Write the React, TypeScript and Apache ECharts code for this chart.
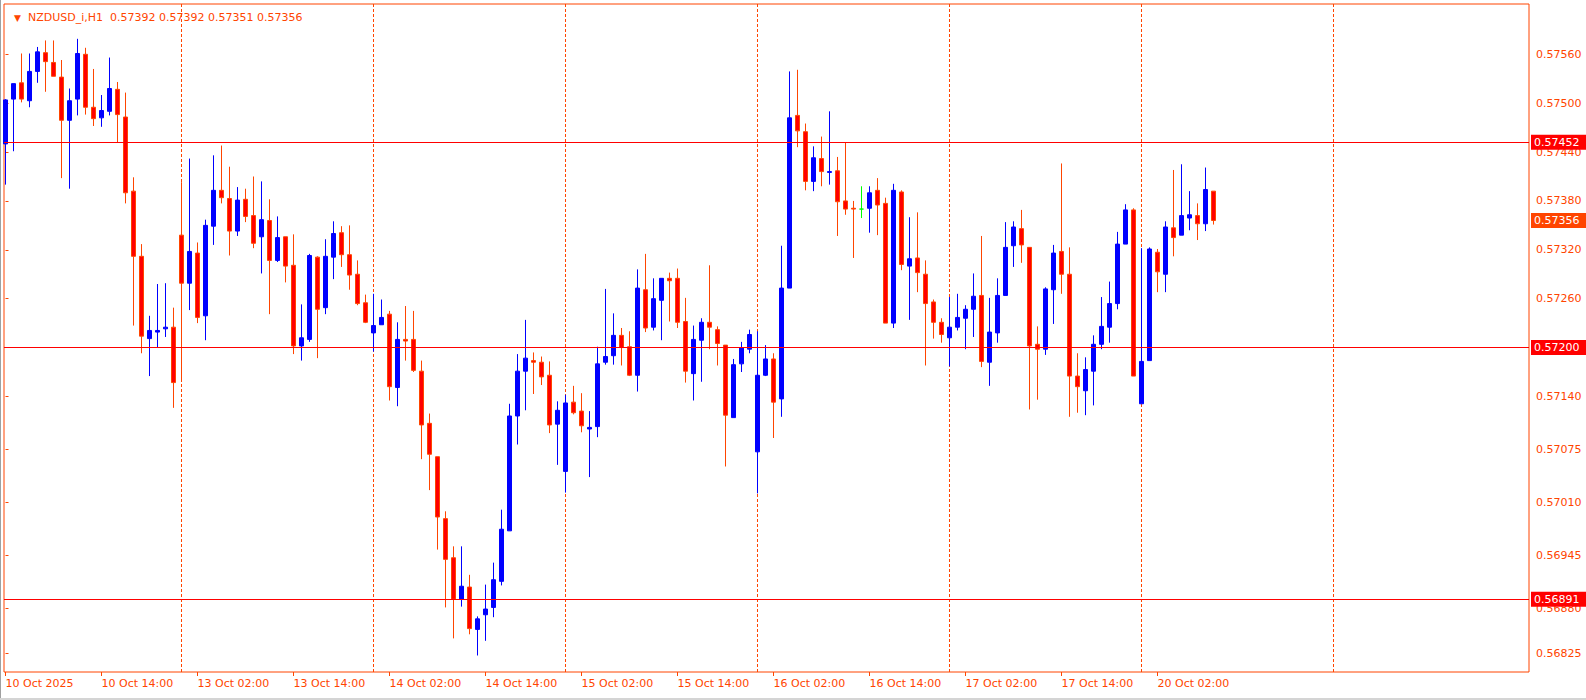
import React, { useEffect, useRef } from "react";
import * as echarts from "echarts";

// ---- data (H1 bars, first bar = 10 Oct 02:00) ----
const OPEN = [
  0.5745, 0.57505, 0.57525, 0.57503, 0.57539, 0.57562, 0.5755, 0.57532, 0.57479, 0.57505,
  0.5756, 0.57495, 0.57482, 0.5749, 0.57517, 0.57483, 0.57392, 0.57312, 0.57211, 0.57219,
  0.57223, 0.57225, 0.57338, 0.57279, 0.57316, 0.57239, 0.57349, 0.57393, 0.57383, 0.57343,
  0.57382, 0.57362, 0.57336, 0.57356, 0.57307, 0.57336, 0.57301, 0.57202, 0.5721, 0.57311,
  0.57249, 0.57311, 0.57341, 0.57314, 0.5729, 0.57255, 0.57218, 0.57228, 0.57241, 0.57151,
  0.5721, 0.5721, 0.57171, 0.57107, 0.57066, 0.5699, 0.56942, 0.56891, 0.56906, 0.56854,
  0.56872, 0.56881, 0.56913, 0.56975, 0.57116, 0.57171, 0.57184, 0.57182, 0.57166, 0.57106,
  0.57048, 0.57133, 0.57122, 0.571, 0.57103, 0.57182, 0.5719, 0.57215, 0.57201, 0.57166,
  0.57271, 0.57225, 0.57258, 0.57285, 0.57285, 0.57232, 0.57168, 0.57209, 0.57231, 0.57222,
  0.57203, 0.57114, 0.5718, 0.57198, 0.57072, 0.57166, 0.57186, 0.57137, 0.57273, 0.57485,
  0.57465, 0.57404, 0.57432, 0.57415, 0.57417, 0.5738, 0.57371, 0.5737, 0.57371, 0.57393,
  0.57377, 0.5723, 0.57391, 0.573, 0.5731, 0.5729, 0.57256, 0.57231, 0.57212, 0.57225,
  0.57236, 0.57247, 0.57264, 0.57182, 0.57218, 0.57264, 0.57325, 0.57346, 0.57323, 0.57204,
  0.57198, 0.57271, 0.57318, 0.5729, 0.57165, 0.57147, 0.57171, 0.57204, 0.57225, 0.57254,
  0.57327, 0.57369, 0.57131, 0.57184, 0.57317, 0.5729, 0.57347, 0.57338, 0.57359, 0.57362,
  0.57352, 0.57392,
];
const HIGH = [
  0.57505, 0.57524, 0.57561, 0.57561, 0.57569, 0.57577, 0.57577, 0.57553, 0.57518, 0.57579,
  0.57568, 0.57542, 0.5751, 0.57556, 0.57526, 0.57513, 0.57409, 0.57327, 0.57239, 0.57278,
  0.57279, 0.57249, 0.57403, 0.57432, 0.57329, 0.57357, 0.57436, 0.57448, 0.57422, 0.57397,
  0.57395, 0.5741, 0.57404, 0.57382, 0.57361, 0.57336, 0.57339, 0.57253, 0.57315, 0.57312,
  0.57333, 0.57355, 0.57349, 0.5735, 0.57307, 0.57265, 0.57266, 0.57259, 0.57245, 0.57231,
  0.57251, 0.57245, 0.57184, 0.57119, 0.57066, 0.56999, 0.56956, 0.56956, 0.56921, 0.5687,
  0.56909, 0.56936, 0.57001, 0.57131, 0.57192, 0.57234, 0.57194, 0.57189, 0.57183, 0.57134,
  0.57142, 0.57153, 0.57144, 0.57122, 0.57201, 0.57272, 0.57242, 0.57224, 0.5722, 0.57296,
  0.57315, 0.57285, 0.57285, 0.57292, 0.57297, 0.57261, 0.57227, 0.57236, 0.57301, 0.57226,
  0.57203, 0.57186, 0.57207, 0.57222, 0.5722, 0.57203, 0.57193, 0.57325, 0.57539, 0.57541,
  0.57475, 0.57447, 0.57459, 0.5749, 0.57434, 0.57452, 0.5738, 0.57398, 0.57398, 0.57408,
  0.57384, 0.57401, 0.57393, 0.5736, 0.57366, 0.57307, 0.57259, 0.57236, 0.57262, 0.57266,
  0.57252, 0.57291, 0.57337, 0.57261, 0.57285, 0.57354, 0.57355, 0.57369, 0.57323, 0.57226,
  0.57274, 0.57326, 0.57426, 0.57323, 0.57193, 0.57188, 0.57215, 0.57262, 0.57281, 0.57342,
  0.57376, 0.57371, 0.57322, 0.57323, 0.57321, 0.57355, 0.57418, 0.57425, 0.57392, 0.57377,
  0.57421, 0.57392,
];
const LOW = [
  0.574, 0.57441, 0.57501, 0.57495, 0.57525, 0.57514, 0.57533, 0.57408, 0.57395, 0.57485,
  0.57486, 0.57472, 0.57471, 0.57485, 0.57452, 0.57377, 0.57227, 0.57193, 0.57165, 0.572,
  0.57213, 0.57126, 0.57161, 0.57246, 0.5723, 0.57209, 0.57326, 0.57377, 0.57313, 0.57337,
  0.57354, 0.57322, 0.57291, 0.57241, 0.57305, 0.5728, 0.57192, 0.57184, 0.57207, 0.57187,
  0.57241, 0.57284, 0.57299, 0.57271, 0.57252, 0.5723, 0.57195, 0.57228, 0.57135, 0.57128,
  0.57184, 0.5717, 0.57063, 0.57025, 0.56952, 0.56881, 0.56843, 0.56882, 0.56848, 0.56822,
  0.5684, 0.56869, 0.56908, 0.56975, 0.57081, 0.57123, 0.57143, 0.57154, 0.57095, 0.57056,
  0.57022, 0.57118, 0.57096, 0.57041, 0.5709, 0.57179, 0.57179, 0.57178, 0.57165, 0.57146,
  0.57219, 0.57221, 0.57209, 0.57232, 0.57224, 0.57157, 0.57135, 0.57158, 0.57198, 0.57178,
  0.57054, 0.57114, 0.5717, 0.57193, 0.57021, 0.57165, 0.57089, 0.57115, 0.57273, 0.57446,
  0.57393, 0.57392, 0.57398, 0.574, 0.57337, 0.57363, 0.5731, 0.57359, 0.57341, 0.57338,
  0.5723, 0.57224, 0.57295, 0.57234, 0.57268, 0.57178, 0.57211, 0.57206, 0.57177, 0.57221,
  0.57198, 0.57213, 0.57176, 0.57153, 0.57206, 0.57264, 0.57299, 0.57304, 0.57124, 0.57136,
  0.57191, 0.57229, 0.57266, 0.57115, 0.5712, 0.57117, 0.57129, 0.57198, 0.57206, 0.57247,
  0.57327, 0.57165, 0.57131, 0.57184, 0.57268, 0.57268, 0.57312, 0.57338, 0.57344, 0.57332,
  0.57343, 0.57351,
];
const CLOSE = [
  0.57504, 0.57524, 0.57505, 0.57539, 0.57563, 0.57551, 0.57533, 0.57479, 0.57503, 0.57561,
  0.57495, 0.57481, 0.57491, 0.57518, 0.57486, 0.5739, 0.57312, 0.57214, 0.57221, 0.57221,
  0.57225, 0.57157, 0.57279, 0.57318, 0.57237, 0.5735, 0.57393, 0.57384, 0.57343, 0.57381,
  0.57361, 0.57328, 0.57357, 0.57307, 0.57335, 0.573, 0.57202, 0.57212, 0.57313, 0.57247,
  0.57312, 0.5734, 0.57314, 0.57289, 0.57254, 0.57231, 0.57227, 0.57237, 0.57152, 0.5721,
  0.57208, 0.57172, 0.57105, 0.57069, 0.56992, 0.5694, 0.56891, 0.56907, 0.56855, 0.56867,
  0.56879, 0.56915, 0.56977, 0.57116, 0.57171, 0.57187, 0.57182, 0.57164, 0.57105, 0.57123,
  0.57132, 0.5712, 0.57104, 0.57102, 0.5718, 0.57189, 0.57215, 0.572, 0.57166, 0.57273,
  0.57224, 0.5726, 0.57285, 0.57282, 0.57231, 0.57171, 0.5721, 0.57231, 0.57225, 0.57205,
  0.57117, 0.57179, 0.572, 0.57216, 0.57166, 0.57186, 0.57133, 0.57273, 0.57482, 0.57466,
  0.57404, 0.57433, 0.57416, 0.57416, 0.57379, 0.5737, 0.5737, 0.5737, 0.5739, 0.57375,
  0.5723, 0.57393, 0.57302, 0.57309, 0.57292, 0.57254, 0.57231, 0.57216, 0.57225, 0.57237,
  0.57247, 0.57263, 0.57183, 0.57219, 0.57264, 0.57323, 0.57348, 0.57326, 0.57202, 0.57198,
  0.57272, 0.57316, 0.5729, 0.57165, 0.57152, 0.57173, 0.57204, 0.57226, 0.57254, 0.57327,
  0.57369, 0.57165, 0.57183, 0.57321, 0.57293, 0.57348, 0.57335, 0.57362, 0.57363, 0.57352,
  0.57394, 0.57356,
];
const DOJI_BARS = [107];

const X_TICK_BARS = [0, 12, 24, 36, 48, 60, 72, 84, 96, 108, 120, 132, 144];
const X_TICK_LABELS = [
  "10 Oct 2025", "10 Oct 14:00", "13 Oct 02:00", "13 Oct 14:00", "14 Oct 02:00",
  "14 Oct 14:00", "15 Oct 02:00", "15 Oct 14:00", "16 Oct 02:00", "16 Oct 14:00",
  "17 Oct 02:00", "17 Oct 14:00", "20 Oct 02:00",
];
const SEPARATOR_BARS = [22, 46, 70, 94, 118, 142, 166];
const PRICE_TICKS = [
  0.5756, 0.575, 0.5744, 0.5738, 0.5732, 0.5726, 0.572, 0.5714, 0.57075, 0.5701, 0.56945,
  0.5688, 0.56825,
];
const LEVELS = [0.57452, 0.572, 0.56891];
const LAST_PRICE = 0.57356;
const SYMBOL_TITLE = "NZDUSD_i,H1";
const TITLE_OHLC = [0.57392, 0.57392, 0.57351, 0.57356];

// ---- layout ----
const GRID_LEFT = 4;
const GRID_TOP = 4;
const GRID_W = 1525;
const GRID_H = 668;
const BAR_PX = 8;
const FIRST_BAR_X = 5.5;
const PX_PER_PRICE = 81462;
const REF_PRICE = 0.5756;
const REF_Y = 54.3;

const FG = "#FF4500";
const FONT = "DejaVu Sans";

export default function App() {
  const ref = useRef<HTMLDivElement>(null);

  useEffect(() => {
    document.body.style.margin = "0";
    if (!ref.current) return;
    const chart = echarts.init(ref.current, undefined, { renderer: "svg" });

    const xMin = (GRID_LEFT - FIRST_BAR_X) / BAR_PX;
    const xMax = xMin + GRID_W / BAR_PX;
    const yMax = REF_PRICE + (REF_Y - GRID_TOP) / PX_PER_PRICE;
    const yMin = yMax - GRID_H / PX_PER_PRICE;

    const candles = OPEN.map((o, i) => {
      const value = [i, o, CLOSE[i], LOW[i], HIGH[i]];
      if (DOJI_BARS.includes(i)) {
        return {
          value,
          itemStyle: {
            color: "#00FF00",
            color0: "#00FF00",
            borderColor: "#00FF00",
            borderColor0: "#00FF00",
          },
        };
      }
      return { value };
    });

    const titleText =
      "{t|▼}{s|" + SYMBOL_TITLE + "  " + TITLE_OHLC.map((v) => v.toFixed(5)).join(" ") + "}";

    const labelBox = {
      show: true,
      position: "end",
      distance: 2,
      formatter: (p: any) => Number(p.value).toFixed(5),
      backgroundColor: "#FF0000",
      color: "#ffffff",
      fontSize: 11,
      fontFamily: FONT,
      lineHeight: 12,
      padding: [2, 10, 1, 3],
    };

    const option: any = {
      animation: false,
      backgroundColor: "#ffffff",
      textStyle: { fontFamily: FONT },
      title: {
        left: 9,
        top: 7,
        text: titleText,
        textStyle: {
          fontWeight: "normal",
          fontSize: 11,
          rich: {
            t: { fontSize: 9, color: FG, fontFamily: FONT, fontWeight: "normal", padding: [0, 7, 0, 0] },
            s: { fontSize: 11, color: FG, fontFamily: FONT, fontWeight: "normal" },
          },
        },
      },
      grid: {
        left: GRID_LEFT,
        top: GRID_TOP,
        width: GRID_W,
        height: GRID_H,
        show: true,
        borderColor: FG,
        borderWidth: 1,
        backgroundColor: "#ffffff",
      },
      xAxis: {
        type: "value",
        min: xMin,
        max: xMax,
        axisLine: { show: false },
        splitLine: { show: false },
        axisTick: {
          show: true,
          customValues: X_TICK_BARS,
          length: 4,
          lineStyle: { color: FG, width: 1 },
        },
        axisLabel: {
          customValues: X_TICK_BARS,
          formatter: (v: number) => {
            const idx = X_TICK_BARS.indexOf(Math.round(v));
            return idx >= 0 ? X_TICK_LABELS[idx] : "";
          },
          align: "left",
          margin: 6,
          color: FG,
          fontSize: 11,
          fontFamily: FONT,
        },
      },
      yAxis: {
        type: "value",
        position: "right",
        min: yMin,
        max: yMax,
        axisLine: { show: false },
        splitLine: { show: false },
        axisTick: {
          show: true,
          customValues: PRICE_TICKS,
          length: 3,
          lineStyle: { color: FG, width: 1 },
        },
        axisLabel: {
          customValues: PRICE_TICKS,
          formatter: (v: number) => v.toFixed(5),
          margin: 7,
          color: FG,
          fontSize: 11,
          fontFamily: FONT,
        },
      },
      series: [
        {
          type: "line",
          data: [],
          silent: true,
          clip: false,
          z: 1,
          markLine: {
            silent: true,
            z: 1,
            precision: 5,
            symbol: ["none", "none"],
            label: { show: false },
            lineStyle: { color: FG, width: 1, type: [3, 2] },
            data: SEPARATOR_BARS.map((b) => ({ xAxis: b })),
          },
        },
        {
          type: "candlestick",
          z: 2,
          encode: { x: 0, y: [1, 2, 3, 4] },
          barWidth: 4,
          itemStyle: {
            color: "#0000FF",
            color0: "#FF0000",
            borderColor: "#0000FF",
            borderColor0: FG,
            borderWidth: 1,
          },
          data: candles,
        },
        {
          type: "line",
          data: [],
          silent: true,
          clip: false,
          z: 5,
          markLine: {
            silent: true,
            z: 5,
            precision: 5,
            symbol: ["none", "none"],
            lineStyle: { color: "#FF0000", width: 1, type: "solid" },
            label: labelBox,
            data: LEVELS.map((v) => ({ yAxis: v })),
          },
        },
        {
          type: "line",
          data: [],
          silent: true,
          clip: false,
          z: 6,
          markLine: {
            silent: true,
            z: 6,
            precision: 5,
            symbol: ["none", "none"],
            lineStyle: { color: "rgba(255,255,255,0)", width: 0, type: "solid" },
            label: { ...labelBox, backgroundColor: FG },
            data: [{ yAxis: LAST_PRICE }],
          },
        },
      ],
      graphic: [
        { type: "rect", shape: { x: 0, y: 0, width: 1, height: 700 }, style: { fill: "#a0a0a0" }, silent: true },
        { type: "rect", shape: { x: 0, y: 698, width: 1586, height: 2 }, style: { fill: "#d4d4d4" }, silent: true },
      ],
    };

    chart.setOption(option);
    return () => chart.dispose();
  }, []);

  return <div ref={ref} style={{ width: 1586, height: 700 }} />;
}
